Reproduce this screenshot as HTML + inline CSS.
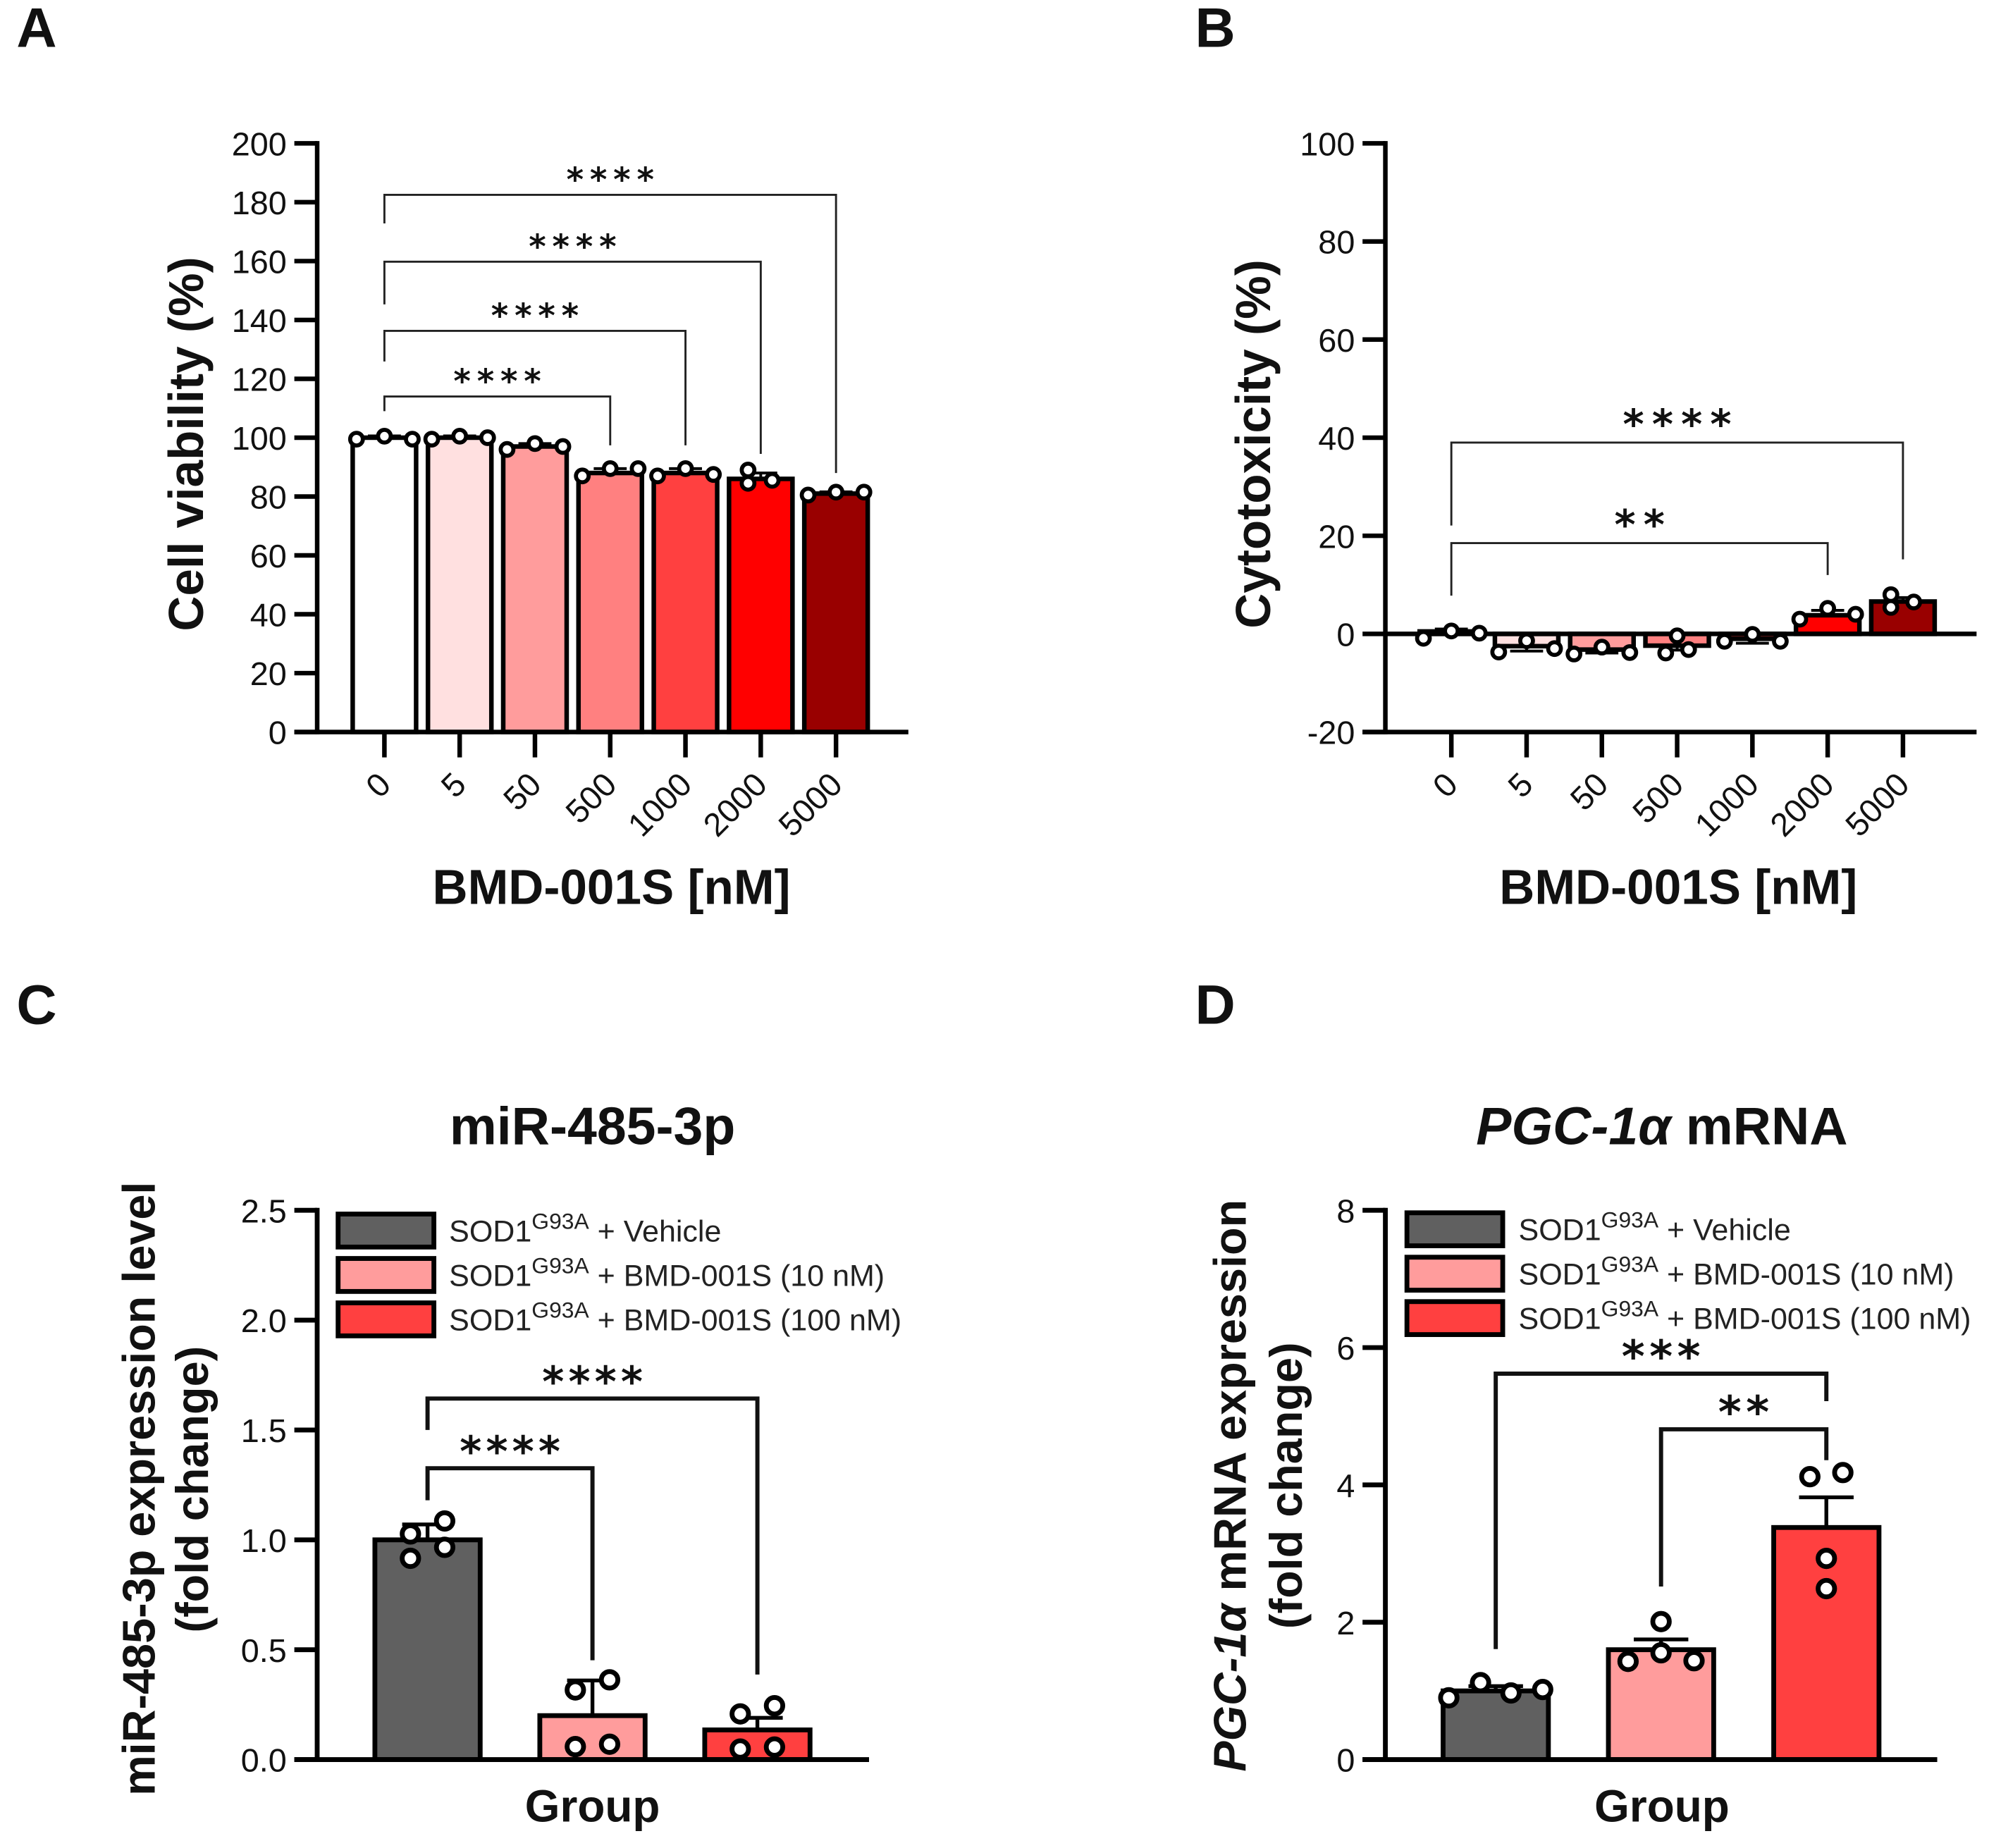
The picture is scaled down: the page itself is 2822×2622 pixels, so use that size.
<!DOCTYPE html>
<html lang="en">
<head>
<meta charset="utf-8">
<title>BMD-001S figure</title>
<style>
html,body{margin:0;padding:0;background:#fff;}
svg{display:block;}
text{font-family:"Liberation Sans",sans-serif;fill:#111;}
.b{font-weight:bold;}
.it{font-style:italic;}
.lg{font-size:23.9px;fill:#222;}
.sup{font-size:17.7px;}
.pl{font-size:44px;font-weight:bold;}
.at{font-size:38.5px;font-weight:bold;}
.tt{font-size:41.8px;font-weight:bold;}
.yt{font-size:36px;font-weight:bold;}
.grp{font-size:35.5px;font-weight:bold;}
</style>
</head>
<body>
<svg id="fig" xmlns="http://www.w3.org/2000/svg" width="2822" height="2622" viewBox="0 0 1567.8 1456.7">
<rect width="1567.8" height="1456.7" fill="#fff"/>

<text class="pl" x="13" y="37">A</text>
<text class="pl" x="942" y="37">B</text>
<text class="pl" x="13" y="807">C</text>
<text class="pl" x="942" y="807">D</text>

<text class="at" transform="translate(160,350) rotate(-90)" text-anchor="middle">Cell viability (%)</text>
<text class="at" x="482" y="712.5" text-anchor="middle">BMD-001S [nM]</text>

<text class="at" transform="translate(1001,350) rotate(-90)" text-anchor="middle">Cytotoxicity (%)</text>
<text class="at" x="1323" y="712.5" text-anchor="middle">BMD-001S [nM]</text>

<text class="tt" x="467" y="902" text-anchor="middle">miR-485-3p</text>
<text class="yt" transform="translate(122,1173.5) rotate(-90)" text-anchor="middle">miR-485-3p expression level</text>
<text class="yt" transform="translate(164,1174) rotate(-90)" text-anchor="middle">(fold change)</text>
<text class="grp" x="467" y="1436" text-anchor="middle">Group</text>

<text class="tt" x="1310" y="902" text-anchor="middle"><tspan class="it">PGC-1α</tspan> mRNA</text>
<text class="yt" transform="translate(982,1171) rotate(-90)" text-anchor="middle"><tspan class="it">PGC-1α</tspan> mRNA expression</text>
<text class="yt" transform="translate(1026,1171) rotate(-90)" text-anchor="middle">(fold change)</text>
<text class="grp" x="1310" y="1436" text-anchor="middle">Group</text>

<g>
  <rect x="266.5" y="957" width="75.5" height="26" fill="#606060" stroke="#000" stroke-width="3.8"/>
  <text class="lg" x="354" y="978.5" xml:space="preserve">SOD1<tspan class="sup" dy="-10">G93A</tspan><tspan dy="10"> + Vehicle</tspan></text>
  <rect x="266.5" y="992" width="75.5" height="26" fill="#ff9c9c" stroke="#000" stroke-width="3.8"/>
  <text class="lg" x="354" y="1013.5" xml:space="preserve">SOD1<tspan class="sup" dy="-10">G93A</tspan><tspan dy="10"> + BMD-001S (10 nM)</tspan></text>
  <rect x="266.5" y="1027" width="75.5" height="26" fill="#ff4040" stroke="#000" stroke-width="3.8"/>
  <text class="lg" x="354" y="1048.5" xml:space="preserve">SOD1<tspan class="sup" dy="-10">G93A</tspan><tspan dy="10"> + BMD-001S (100 nM)</tspan></text>
</g>
<g>
  <rect x="1109" y="956" width="75.5" height="26" fill="#606060" stroke="#000" stroke-width="3.8"/>
  <text class="lg" x="1197" y="977.5" xml:space="preserve">SOD1<tspan class="sup" dy="-10">G93A</tspan><tspan dy="10"> + Vehicle</tspan></text>
  <rect x="1109" y="991" width="75.5" height="26" fill="#ff9c9c" stroke="#000" stroke-width="3.8"/>
  <text class="lg" x="1197" y="1012.5" xml:space="preserve">SOD1<tspan class="sup" dy="-10">G93A</tspan><tspan dy="10"> + BMD-001S (10 nM)</tspan></text>
  <rect x="1109" y="1026" width="75.5" height="26" fill="#ff4040" stroke="#000" stroke-width="3.8"/>
  <text class="lg" x="1197" y="1047.5" xml:space="preserve">SOD1<tspan class="sup" dy="-10">G93A</tspan><tspan dy="10"> + BMD-001S (100 nM)</tspan></text>
</g>
</svg>

<script>
// ---- Panel A data
const aCategories = ['0','5','50','500','1000','2000','5000'];
const aMeans = [100,100,97,88,88,86,81];
const aErrorEnds = [100.6,100.6,98,89.5,89.5,88,81.6];
const aPoints = [[99.5,100.5,99.5],[99.5,100.5,100],[96,98,97],[87,89.5,89.5],[87,89.5,87.5],[89,84.5,85.5],[80.5,81.5,81.5]];
const aYTicks = [0,20,40,60,80,100,120,140,160,180,200];
const aYTickLabels = ['0','20','40','60','80','100','120','140','160','180','200'];
const aBracketFrom = [0,0,0,0];
const aBracketTo = [3,4,5,6];
const aBracketTop = [114,136.3,159.8,182.5];
const aBracketLeftEnd = [109,125.9,145.3,172.8];
const aBracketRightEnd = [97.4,97.4,94.5,88];
const aBracketStars = ['****','****','****','****'];

// ---- Panel B data
const bCategories = ['0','5','50','500','1000','2000','5000'];
const bMeans = [0.5,-2.5,-3.2,-2.4,-1,3.8,6.6];
const bErrorEnds = [1,-3.5,-3.9,-3.3,-1.9,4.8,7.4];
const bPoints = [[-0.9,0.6,0.15],[-3.7,-1.4,-3],[-4.1,-2.7,-3.8],[-3.9,-0.4,-3.2],[-1.5,-0.1,-1.5],[3,5.2,4],[8,5.4,6.5]];
const bYTicks = [-20,0,20,40,60,80,100];
const bYTickLabels = ['-20','0','20','40','60','80','100'];
const bBracketFrom = [0,0];
const bBracketTo = [5,6];
const bBracketTop = [18.5,39];
const bBracketLeftEnd = [7.8,22.1];
const bBracketRightEnd = [12,15.2];
const bBracketStars = ['**','****'];

// ---- Panel C data
const cMeans = [1.0,0.2,0.135];
const cErrorEnds = [1.07,0.36,0.19];
const cPoints = [[1.027,1.086,0.916,0.966],[0.317,0.363,0.059,0.07],[0.208,0.245,0.048,0.057]];
const cYTicks = [0,0.5,1,1.5,2,2.5];
const cYTickLabels = ['0.0','0.5','1.0','1.5','2.0','2.5'];
const cBracketFrom = [0,0];
const cBracketTo = [1,2];
const cBracketTop = [1.326,1.643];
const cBracketLeftEnd = [1.18,1.5];
const cBracketRightEnd = [0.452,0.387];
const cBracketStars = ['****','****'];

// ---- Panel D data
const dMeans = [1.0,1.6,3.38];
const dErrorEnds = [1.07,1.75,3.82];
const dPoints = [[0.9,1.12,0.97,1.02],[1.43,2.01,1.555,1.44],[4.12,4.18,2.93,2.49]];
const dYTicks = [0,2,4,6,8];
const dYTickLabels = ['0','2','4','6','8'];
const dBracketFrom = [0,1];
const dBracketTo = [2,2];
const dBracketTop = [5.62,4.81];
const dBracketLeftEnd = [1.61,2.52];
const dBracketRightEnd = [5.22,4.36];
const dBracketStars = ['***','**'];

const NS = 'http://www.w3.org/2000/svg';
const fig = document.getElementById('fig');

function mk(tag, attrs, parent) {
  const e = document.createElementNS(NS, tag);
  for (const k in attrs) e.setAttribute(k, attrs[k]);
  parent.appendChild(e);
  return e;
}

function drawPanel(p) {
  const g = mk('g', {}, fig);
  
  

  const yMin = p.yTicks[0], yMax = p.yTicks[p.yTicks.length - 1];
  const Y = v => p.yBottom + (v - yMin) * (p.yTop - p.yBottom) / (yMax - yMin);
  const X = i => p.xFirst + i * p.xStep;

  // bars
  p.means.forEach((m, i) => {
    const a = Y(0), b = Y(m);
    const r = mk('rect', {x: X(i) - p.barW / 2, y: Math.min(a, b), width: p.barW, height: Math.abs(a - b), fill: p.colors[i], stroke: '#000', 'stroke-width': p.sw}, g);
    
    
  });

  // y axis
  const ya = mk('line', {x1: p.axisX, x2: p.axisX, y1: p.yTop - p.sw / 2, y2: p.yBottom + p.sw / 2, stroke: '#000', 'stroke-width': p.sw}, g);
  
  
  p.yTicks.forEach((t, i) => {
    const tk = mk('line', {x1: p.axisX - 18, x2: p.axisX, y1: Y(t), y2: Y(t), stroke: '#000', 'stroke-width': p.sw}, g);
    
    
    const lb = mk('text', {x: p.axisX - 24, y: Y(t) + 9.5, 'text-anchor': 'end', 'font-size': 26, fill: '#222'}, g);
    lb.textContent = p.yLabels[i];
    
    
  });

  // x axis
  const xa = mk('line', {x1: p.axisX - 18, x2: p.xEnd, y1: p.yBottom, y2: p.yBottom, stroke: '#000', 'stroke-width': p.sw}, g);
  
  
  if (p.zeroLine) {
    const z = mk('line', {x1: p.axisX, x2: p.xEnd, y1: Y(0), y2: Y(0), stroke: '#000', 'stroke-width': p.sw}, g);
    
    
  }
  if (p.categories) {
    p.categories.forEach((c, i) => {
      const tk = mk('line', {x1: X(i), x2: X(i), y1: p.yBottom, y2: p.yBottom + 20, stroke: '#000', 'stroke-width': p.sw}, g);
      
      
      const lb = mk('text', {transform: 'translate(' + (X(i) + 6.5) + ',' + (p.yBottom + 43) + ') rotate(-45)', 'text-anchor': 'end', 'font-size': 26, fill: '#222'}, g);
      lb.textContent = c;
      
      
    });
  }

  // error bars
  p.errs.forEach((e, i) => {
    const s = mk('line', {x1: X(i), x2: X(i), y1: Y(p.means[i]), y2: Y(e), stroke: '#000', 'stroke-width': p.errSw}, g);
    
    
    const c = mk('line', {x1: X(i) - p.capW / 2, x2: X(i) + p.capW / 2, y1: Y(e), y2: Y(e), stroke: '#000', 'stroke-width': p.errSw}, g);
    
    
  });

  // points
  p.points.forEach((arr, i) => {
    const off = p.jitter[i];
    arr.forEach((v, j) => {
      const c = mk('circle', {cx: X(i) + off[j], cy: Y(v), r: p.ptR, fill: '#fff', stroke: '#000', 'stroke-width': p.ptSw}, g);
      
      
    });
  });

  // significance brackets
  p.brFrom.forEach((f, i) => {
    const t = p.brTo[i], x1 = X(f), x2 = X(t);
    const d = 'M' + x1 + ' ' + Y(p.brLeft[i]) + 'V' + Y(p.brTop[i]) + 'H' + x2 + 'V' + Y(p.brRight[i]);
    const b = mk('path', {d: d, fill: 'none', stroke: p.brColor, 'stroke-width': p.brSw}, g);
    
    
    const cy = Y(p.brTop[i]) - p.starOff;
    const st = mk('text', {x: (x1 + x2) / 2 + p.starLs / 2, y: cy + p.starSize * 0.52, 'text-anchor': 'middle', 'font-size': p.starSize, 'font-weight': 'bold', 'letter-spacing': p.starLs, style: 'font-family:"DejaVu Sans",sans-serif;fill:#111'}, g);
    st.textContent = p.brStars[i];
    
    
  });
}

const redRamp = ['#ffffff','#ffe0e0','#ff9c9c','#ff8080','#ff4040','#ff0000','#990000'];
const wide = [-22,0,22];
const groupColors = ['#606060','#ff9c9c','#ff4040'];

drawPanel({
  id:'a', categories:aCategories, means:aMeans, errs:aErrorEnds, points:aPoints,
  yTicks:aYTicks, yLabels:aYTickLabels,
  brFrom:aBracketFrom, brTo:aBracketTo, brTop:aBracketTop, brLeft:aBracketLeftEnd, brRight:aBracketRightEnd, brStars:aBracketStars,
  axisX:250, yTop:113, yBottom:577, xEnd:716, xFirst:303, xStep:59.33, barW:50, sw:3.6, errSw:2.2, capW:26,
  ptR:5, ptSw:3.2, colors:redRamp, zeroLine:false, brSw:1.6, brColor:'#222', starOff:16.5, starSize:26, starLs:4.9,
  jitter:[wide,wide,wide,wide,wide,[-10,-10,9],wide]
});

drawPanel({
  id:'b', categories:bCategories, means:bMeans, errs:bErrorEnds, points:bPoints,
  yTicks:bYTicks, yLabels:bYTickLabels,
  brFrom:bBracketFrom, brTo:bBracketTo, brTop:bBracketTop, brLeft:bBracketLeftEnd, brRight:bBracketRightEnd, brStars:bBracketStars,
  axisX:1092, yTop:113, yBottom:577, xEnd:1558, xFirst:1144, xStep:59.33, barW:50, sw:3.6, errSw:2.2, capW:26,
  ptR:5, ptSw:3.2, colors:redRamp, zeroLine:true, brSw:1.6, brColor:'#222', starOff:20, starSize:32, starLs:6.2,
  jitter:[wide,wide,wide,[-9,0,9],wide,wide,[-9.5,-9.5,8.5]]
});

drawPanel({
  id:'c', means:cMeans, errs:cErrorEnds, points:cPoints,
  yTicks:cYTicks, yLabels:cYTickLabels,
  brFrom:cBracketFrom, brTo:cBracketTo, brTop:cBracketTop, brLeft:cBracketLeftEnd, brRight:cBracketRightEnd, brStars:cBracketStars,
  axisX:250, yTop:954, yBottom:1387, xEnd:685, xFirst:337, xStep:130, barW:83, sw:3.8, errSw:3, capW:40,
  ptR:6.5, ptSw:3.8, colors:groupColors, zeroLine:false, brSw:3.3, brColor:'#111', starOff:19, starSize:33, starLs:3.4,
  jitter:[[-13.5,13.5,-13.5,13.5],[-13.5,13.5,-13.5,13.5],[-13.5,13.5,-13.5,13.5]]
});

drawPanel({
  id:'d', means:dMeans, errs:dErrorEnds, points:dPoints,
  yTicks:dYTicks, yLabels:dYTickLabels,
  brFrom:dBracketFrom, brTo:dBracketTo, brTop:dBracketTop, brLeft:dBracketLeftEnd, brRight:dBracketRightEnd, brStars:dBracketStars,
  axisX:1092, yTop:954, yBottom:1387, xEnd:1527, xFirst:1179, xStep:130.3, barW:83, sw:3.8, errSw:3, capW:43,
  ptR:6.5, ptSw:3.8, colors:groupColors, zeroLine:false, brSw:3.3, brColor:'#111', starOff:19.5, starSize:35, starLs:3.6,
  jitter:[[-37,-12,12,37],[-26,0,0,26],[-13,13,0,0]]
});
</script>
</body>
</html>
